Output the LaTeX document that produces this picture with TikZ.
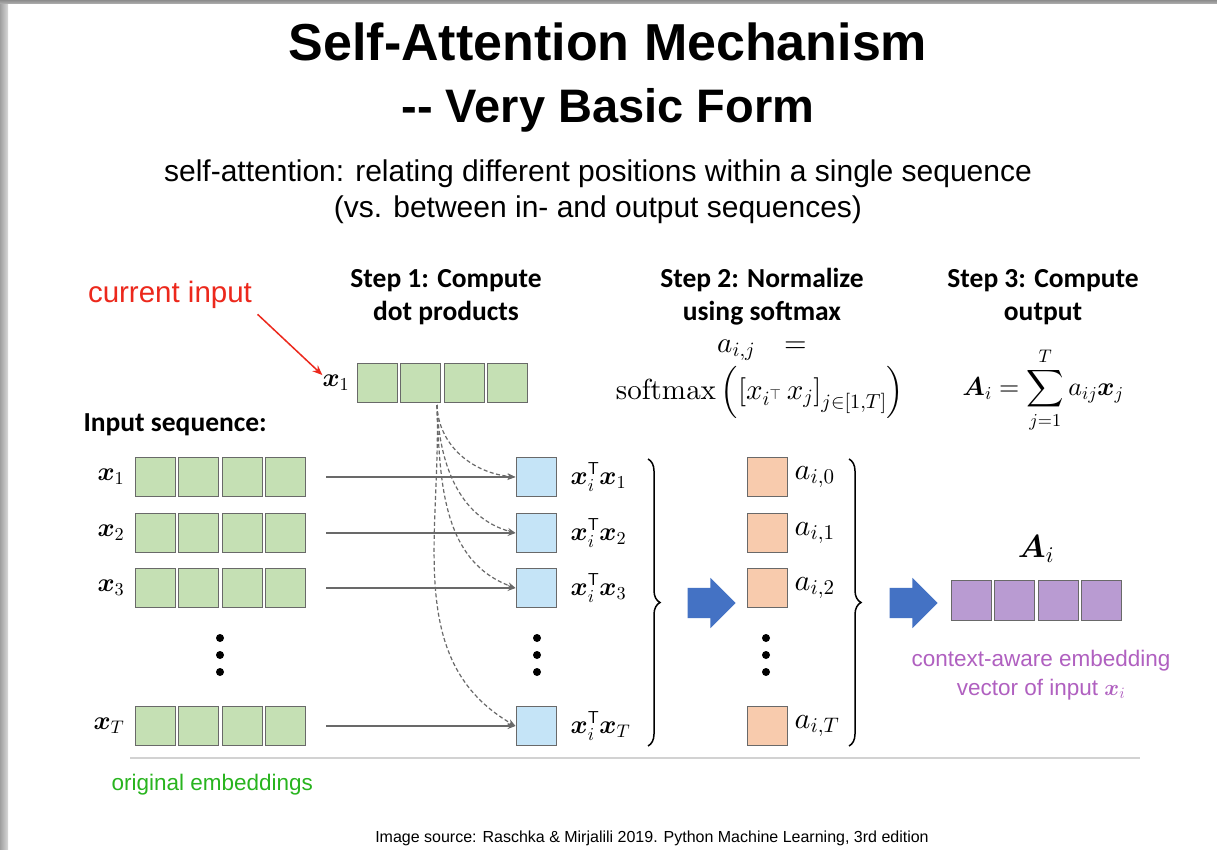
\documentclass[tikz,border=0pt]{standalone}
\usepackage[no-math]{fontspec}
\setmainfont{Liberation Sans}
\newfontfamily\calfont{Carlito}
\usepackage{bm}
\usepackage{xcolor}
\usetikzlibrary{positioning, shapes.arrows, decorations.pathreplacing, arrows.meta}

% scalable math fonts
\DeclareFontShape{OT1}{cmr}{m}{n}{<->cmr10}{}
\DeclareFontShape{OT1}{cmr}{bx}{n}{<->cmbx10}{}
\DeclareFontShape{OML}{cmm}{m}{it}{<->cmmi10}{}
\DeclareFontShape{OML}{cmm}{b}{it}{<->cmmib10}{}
\DeclareFontShape{OMS}{cmsy}{m}{n}{<->cmsy10}{}
\DeclareFontShape{OMS}{cmsy}{b}{n}{<->cmbsy10}{}
\DeclareFontShape{OMX}{cmex}{m}{n}{<->cmex10}{}

\definecolor{cellgreen}{RGB}{197,224,180}
\definecolor{cellblue}{RGB}{197,228,247}
\definecolor{cellorange}{RGB}{248,203,173}
\definecolor{cellpurple}{RGB}{185,155,210}
\definecolor{cellborder}{RGB}{105,105,105}
\definecolor{bigarrow}{RGB}{68,114,196}
\definecolor{hintred}{RGB}{236,40,28}
\definecolor{hintgreen}{RGB}{40,180,30}
\definecolor{hintpurple}{RGB}{176,96,192}

\begin{document}
\begin{tikzpicture}[
    x=1pt, y=-1pt,
    cell/.style={rectangle, draw=cellborder, line width=1pt, inner sep=0pt, minimum width=40pt, minimum height=39pt},
    gcell/.style={cell, fill=cellgreen},
    bcell/.style={cell, fill=cellblue},
    ocell/.style={cell, fill=cellorange},
    pcell/.style={cell, fill=cellpurple, minimum height=40pt},
    steptext/.style={font=\calfont\bfseries\fontsize{27.5}{33}\selectfont, align=center},
    mathlbl/.style={font=\fontsize{26}{30}\selectfont, inner sep=0pt},
    formula/.style={font=\fontsize{29}{34}\selectfont, inner sep=0pt},
    dot/.style={circle, fill=black, inner sep=0pt, minimum size=8pt},
    line/.style={-{Stealth[length=8pt,width=6pt]}, draw=cellborder, line width=1.1pt},
    dashline/.style={-{Stealth[length=8pt,width=6pt]}, draw=cellborder, line width=1.2pt, dash pattern=on 4pt off 2.5pt},
    bigarr/.style={single arrow, fill=bigarrow, inner xsep=0pt, inner ysep=15pt, minimum height=48pt, single arrow head extend=10pt},
    brace/.style={decorate, decoration={brace, amplitude=12pt}, line width=1.5pt}
]

% page and shadow
\fill[white] (0,0) rectangle (1217,850);
\shade[left color=gray!75, right color=gray!30] (0,0) rectangle (8,850);
\shade[top color=gray!90, bottom color=gray!60] (0,0) rectangle (1217,4);

% titles
\node[font=\bfseries\fontsize{52}{60}\selectfont] (title) at (608,42) {Self-Attention Mechanism};
\node[font=\bfseries\fontsize{47}{56}\selectfont] (subtitle) at (608,110) {-{}- Very Basic Form};
\node[font=\fontsize{30}{36}\selectfont, align=center] (desc) at (598,192)
    {self-attention: relating different positions within a single sequence\\(vs. between in- and output sequences)};

% step headers
\node[steptext] (step1) at (446,297) {Step 1: Compute\\dot products};
\node[steptext] (step2) at (762,297) {Step 2: Normalize\\using softmax};
\node[steptext] (step3) at (1043,297) {Step 3: Compute\\output};

% current input vector
\node[font=\fontsize{29.5}{34}\selectfont, text=hintred] (cur) at (170,295) {current input};
\node[gcell] (t1) at (377,383) {};
\node[gcell, right=2.5pt of t1] (t2) {};
\node[gcell, right=2.5pt of t2] (t3) {};
\node[gcell, right=2.5pt of t3] (t4) {};
\node[mathlbl, left=7pt of t1] (tx) {$\bm{x}_1$};
\draw[-{Stealth[length=10pt,width=8pt]}, hintred, line width=1.5pt] ([xshift=2pt,yshift=-2pt]cur.south east) -- (tx.north west);

% input sequence
\node[steptext, anchor=west] (inseq) at (80,425) {Input sequence:};

\node[gcell] (r1a) at (155,477) {};
\node[gcell, right=2.5pt of r1a] (r1b) {};
\node[gcell, right=2.5pt of r1b] (r1c) {};
\node[gcell, right=2.5pt of r1c] (r1d) {};
\node[gcell] (r2a) at (155,533) {};
\node[gcell, right=2.5pt of r2a] (r2b) {};
\node[gcell, right=2.5pt of r2b] (r2c) {};
\node[gcell, right=2.5pt of r2c] (r2d) {};
\node[gcell] (r3a) at (155,588) {};
\node[gcell, right=2.5pt of r3a] (r3b) {};
\node[gcell, right=2.5pt of r3b] (r3c) {};
\node[gcell, right=2.5pt of r3c] (r3d) {};
\node[gcell] (rTa) at (155,726) {};
\node[gcell, right=2.5pt of rTa] (rTb) {};
\node[gcell, right=2.5pt of rTb] (rTc) {};
\node[gcell, right=2.5pt of rTc] (rTd) {};

\node[mathlbl, left=10pt of r1a] (x1) {$\bm{x}_1$};
\node[mathlbl, left=10pt of r2a] (x2) {$\bm{x}_2$};
\node[mathlbl, left=10pt of r3a] (x3) {$\bm{x}_3$};
\node[mathlbl, left=10pt of rTa] (xT) {$\bm{x}_T$};

\node[dot] (ld1) at (220,638) {};
\node[dot] (ld2) at (220,655) {};
\node[dot] (ld3) at (220,672) {};

\node[font=\fontsize{22.5}{27}\selectfont, text=hintgreen, anchor=west] (orig) at (108,785) {original embeddings};

% dot products
\node[bcell] (b1) at (536,477) {};
\node[bcell] (b2) at (536,533) {};
\node[bcell] (b3) at (536,588) {};
\node[bcell] (bT) at (536,726) {};
\node[mathlbl, right=14pt of b1] (p1) {$\bm{x}_i^{\mathsf{T}}\bm{x}_1$};
\node[mathlbl, right=14pt of b2] (p2) {$\bm{x}_i^{\mathsf{T}}\bm{x}_2$};
\node[mathlbl, right=14pt of b3] (p3) {$\bm{x}_i^{\mathsf{T}}\bm{x}_3$};
\node[mathlbl, right=14pt of bT] (pT) {$\bm{x}_i^{\mathsf{T}}\bm{x}_T$};

\node[dot] (md1) at (537,638) {};
\node[dot] (md2) at (537,655) {};
\node[dot] (md3) at (537,672) {};

\draw[line] ([xshift=20pt]r1d.east) -- (b1);
\draw[line] ([xshift=20pt]r2d.east) -- (b2);
\draw[line] ([xshift=20pt]r3d.east) -- (b3);
\draw[line] ([xshift=20pt]rTd.east) -- (bT);

\coordinate (src) at (437,405);
\draw[dashline] (src) to[out=-88, in=175] (b1.west);
\draw[dashline] (src) to[out=-88, in=165] (b2.west);
\draw[dashline] (src) to[out=-88, in=160] (b3.west);
\draw[dashline] (src) to[out=-88, in=150] (bT.west);

% softmax
\node[formula] (aij) at (762,350) {$a_{i,j}\;\;\,=$};
\node[formula] (smax) at (760,392)
    {$\mathrm{softmax}\left(\left[x_{i^{\top}}\,x_j\right]_{j\in[1,T]}\right)$};

\draw[brace] (648,459) -- (648,746) coordinate[pos=0.5] (br1);
\node[bigarr] (arr1) at (704,603) {};

\node[ocell] (o1) at (767,477) {};
\node[ocell] (o2) at (767,533) {};
\node[ocell] (o3) at (767,588) {};
\node[ocell] (oT) at (767,726) {};
\node[mathlbl, font=\fontsize{30}{34}\selectfont, right=7pt of o1] (a1) {$a_{i,0}$};
\node[mathlbl, font=\fontsize{30}{34}\selectfont, right=7pt of o2] (a2) {$a_{i,1}$};
\node[mathlbl, font=\fontsize{30}{34}\selectfont, right=7pt of o3] (a3) {$a_{i,2}$};
\node[mathlbl, font=\fontsize{30}{34}\selectfont, right=7pt of oT] (aT) {$a_{i,T}$};

\node[dot] (od1) at (766,638) {};
\node[dot] (od2) at (766,655) {};
\node[dot] (od3) at (766,672) {};

% output
\node[formula, font=\fontsize{26}{30}\selectfont] (sum) at (1043,390) {$\bm{A}_i = \displaystyle\sum_{j=1}^{T} a_{ij}\bm{x}_j$};

\draw[brace] (849,459) -- (849,746) coordinate[pos=0.5] (br2);
\node[bigarr] (arr2) at (906,603) {};

\node[pcell] (q1) at (971,600) {};
\node[pcell, right=2.5pt of q1] (q2) {};
\node[pcell, right=2.5pt of q2] (q3) {};
\node[pcell, right=2.5pt of q3] (q4) {};
\node[font=\fontsize{32}{36}\selectfont] (Ai) at (1036,549) {$\bm{A}_i$};
\node[font=\fontsize{22.5}{29}\selectfont, text=hintpurple, align=center] (ctx) at (1041,675)
    {context-aware embedding\\vector of input $\bm{x}_i$};

% rule and source
\draw[gray!35, line width=2pt] (130,758) -- (1140,758);
\node[font=\fontsize{16}{18}\selectfont] (src-txt) at (652,838) {Image source: Raschka \& Mirjalili 2019. Python Machine Learning, 3rd edition};

\useasboundingbox (0,0) rectangle (1217,850);
\end{tikzpicture}
\end{document}
